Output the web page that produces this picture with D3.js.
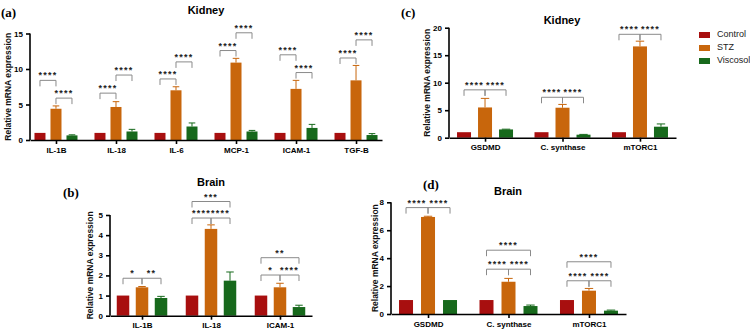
<!DOCTYPE html>
<html>
<head>
<meta charset="utf-8">
<script src="https://cdn.jsdelivr.net/npm/d3@7"></script>
<style>
  body { margin: 0; background: #fff; }
  text { font-family: "Liberation Sans", Arial, sans-serif; }
</style>
</head>
<body>
<svg id="chart"></svg>
<script>
// ---- data ----
const series = ["Control", "STZ", "Viscosol"]
const colors = ["#a80f0f", "#c8660c", "#17691c"]

// (a) kidney cytokines
const catsA = ["IL-1B", "IL-18", "IL-6", "MCP-1", "ICAM-1", "TGF-B"]
const controlA = [1, 1, 1, 1, 1, 1]
const stzA = [4.4, 4.65, 7.0, 10.9, 7.2, 8.4]
const viscA = [0.65, 1.2, 1.9, 1.2, 1.7, 0.7]
const controlErrA = [0, 0, 0, 0, 0, 0]
const stzErrA = [0.4, 0.75, 0.5, 0.6, 1.2, 2.1]
const viscErrA = [0.08, 0.3, 0.5, 0.15, 0.5, 0.2]
// significance: [category, from, to, label, bracket level]
const sigA = [
  ["IL-1B", 0, 1, "****", 8.4], ["IL-1B", 1, 2, "****", 5.9],
  ["IL-18", 0, 1, "****", 6.6], ["IL-18", 1, 2, "****", 9.15],
  ["IL-6", 0, 1, "****", 8.6], ["IL-6", 1, 2, "****", 11.0],
  ["MCP-1", 0, 1, "****", 12.6], ["MCP-1", 1, 2, "****", 15.1],
  ["ICAM-1", 0, 1, "****", 12.0], ["ICAM-1", 1, 2, "****", 9.5],
  ["TGF-B", 0, 1, "****", 11.55], ["TGF-B", 1, 2, "****", 14.1]
]

// (b) brain cytokines
const catsB = ["IL-1B", "IL-18", "ICAM-1"]
const controlB = [1, 1, 1]
const stzB = [1.41, 4.31, 1.41]
const viscB = [0.88, 1.74, 0.43]
const controlErrB = [0, 0, 0]
const stzErrB = [0.04, 0.2, 0.2]
const viscErrB = [0.08, 0.43, 0.09]
const sigB = [
  ["IL-1B", 0, 1, "*", 1.86], ["IL-1B", 1, 2, "**", 1.86],
  ["IL-18", 0, 1, "****", 4.85], ["IL-18", 1, 2, "****", 4.85], ["IL-18", 0, 2, "***", 5.67],
  ["ICAM-1", 0, 1, "*", 2.02], ["ICAM-1", 1, 2, "****", 2.02], ["ICAM-1", 0, 2, "**", 2.88]
]

// (c) kidney pyroptosis markers
const catsC = ["GSDMD", "C. synthase", "mTORC1"]
const controlC = [1, 1, 1]
const stzC = [5.5, 5.45, 16.6]
const viscC = [1.5, 0.55, 2.0]
const controlErrC = [0, 0, 0]
const stzErrC = [1.65, 0.6, 0.95]
const viscErrC = [0.05, 0.05, 0.5]
const sigC = [
  ["GSDMD", 0, 1, "****", 8.7], ["GSDMD", 1, 2, "****", 8.7],
  ["C. synthase", 0, 1, "****", 7.35], ["C. synthase", 1, 2, "****", 7.35],
  ["mTORC1", 0, 1, "****", 18.8], ["mTORC1", 1, 2, "****", 18.8]
]

// (d) brain pyroptosis markers
const catsD = ["GSDMD", "C. synthase", "mTORC1"]
const controlD = [1, 1, 1]
const stzD = [6.95, 2.31, 1.67]
const viscD = [1, 0.57, 0.24]
const controlErrD = [0, 0, 0]
const stzErrD = [0.05, 0.24, 0.16]
const viscErrD = [0, 0.07, 0.04]
const sigD = [
  ["GSDMD", 0, 1, "****", 7.62], ["GSDMD", 1, 2, "****", 7.62],
  ["C. synthase", 0, 1, "****", 3.21], ["C. synthase", 1, 2, "****", 3.21], ["C. synthase", 0, 2, "****", 4.57],
  ["mTORC1", 0, 1, "****", 2.38], ["mTORC1", 1, 2, "****", 2.38], ["mTORC1", 0, 2, "****", 3.74]
]

// ---- layout ----
const width = 750, height = 331
const svg = d3.select("#chart").attr("width", width).attr("height", height)

const panels = [
  {tag: "(a)", title: "Kidney", cats: catsA, vals: [controlA, stzA, viscA], errs: [controlErrA, stzErrA, viscErrA], sig: sigA,
   x: [30, 382], y: [140, 33.5], ymax: 15, ticks: [0, 5, 10, 15], pad: 0.433, off: 16, bw: 11,
   tagPos: [1, 17], titlePos: [206, 14], labelX: 9},
  {tag: "(b)", title: "Brain", cats: catsB, vals: [controlB, stzB, viscB], errs: [controlErrB, stzErrB, viscErrB], sig: sigB,
   x: [110, 312], y: [315.7, 215], ymax: 5, ticks: [0, 1, 2, 3, 4, 5], pad: 0.464, off: 19, bw: 12.5,
   tagPos: [63, 197], titlePos: [211, 186], labelX: 91},
  {tag: "(c)", title: "Kidney", cats: catsC, vals: [controlC, stzC, viscC], errs: [controlErrC, stzErrC, viscErrC], sig: sigC,
   x: [449, 676], y: [137.7, 27.7], ymax: 20, ticks: [0, 5, 10, 15, 20], pad: 0.465, off: 21, bw: 14,
   tagPos: [401, 17], titlePos: [562, 24], labelX: 428},
  {tag: "(d)", title: "Brain", cats: catsD, vals: [controlD, stzD, viscD], errs: [controlErrD, stzErrD, viscErrD], sig: sigD,
   x: [391, 626], y: [314, 202.3], ymax: 8, ticks: [0, 2, 4, 6, 8], pad: 0.46, off: 22, bw: 14,
   tagPos: [423, 189], titlePos: [508, 195], labelX: 376}
]

panels.forEach(p => drawPanel(p))

function drawPanel(p) {
  const g = svg.append("g")
  const scaleX = d3.scalePoint().domain(p.cats).range(p.x).padding(p.pad)
  const scaleS = d3.scalePoint().domain(series).range([-p.off, p.off])
  const scaleY = d3.scaleLinear().domain([0, p.ymax]).range(p.y)

  // panel tag and title
  g.append("text").text(p.tag).attr("x", p.tagPos[0]).attr("y", p.tagPos[1])
    .style("font-family", "'Liberation Serif', 'Times New Roman', serif")
    .attr("font-weight", "bold").attr("font-size", 13)
  g.append("text").text(p.title).attr("x", p.titlePos[0]).attr("y", p.titlePos[1])
    .attr("text-anchor", "middle").attr("font-weight", "bold").attr("font-size", 11)

  // y label
  const midY = (p.y[0] + p.y[1]) / 2
  g.append("text").text("Relative mRNA expression")
    .attr("transform", `translate(${p.labelX}, ${midY}) rotate(-90)`)
    .attr("text-anchor", "middle").attr("dominant-baseline", "middle")
    .attr("font-weight", "bold").attr("font-size", 8.5).attr("fill", "#111")

  // bars
  const rows = []
  p.cats.forEach((c, i) => {
    series.forEach((s, j) => rows.push({cat: c, s: s, j: j, v: p.vals[j][i], e: p.errs[j][i]}))
  })
  g.append("g").selectAll("rect").data(rows).join("rect")
    .attr("x", d => scaleX(d.cat) + scaleS(d.s) - p.bw / 2)
    .attr("width", p.bw)
    .attr("y", d => scaleY(d.v))
    .attr("height", d => scaleY(0) - scaleY(d.v))
    .attr("fill", d => colors[d.j])

  // error bars (upper only)
  const eb = g.append("g").selectAll("g").data(rows.filter(d => d.e > 0)).join("g")
    .attr("stroke", d => colors[d.j]).attr("stroke-width", 1)
  eb.append("line")
    .attr("x1", d => scaleX(d.cat) + scaleS(d.s)).attr("x2", d => scaleX(d.cat) + scaleS(d.s))
    .attr("y1", d => scaleY(d.v)).attr("y2", d => scaleY(d.v + d.e))
  eb.append("line")
    .attr("x1", d => scaleX(d.cat) + scaleS(d.s) - p.bw * 0.3).attr("x2", d => scaleX(d.cat) + scaleS(d.s) + p.bw * 0.3)
    .attr("y1", d => scaleY(d.v + d.e)).attr("y2", d => scaleY(d.v + d.e))

  // axes
  const yAxis = d3.axisLeft(scaleY).tickValues(p.ticks).tickFormat(d3.format("d")).tickSize(4).tickSizeOuter(0)
  const ya = g.append("g").attr("transform", `translate(${p.x[0]},0)`).call(yAxis)
  const xAxis = d3.axisBottom(scaleX).tickSize(4).tickSizeOuter(0).tickPadding(3)
  const xa = g.append("g").attr("transform", `translate(0,${p.y[0]})`).call(xAxis)
  ;[ya, xa].forEach(a => {
    a.selectAll("path, line").attr("stroke", "#000").attr("stroke-width", 1.6)
    a.selectAll("text").attr("font-weight", "bold").attr("font-size", 8)
      .style("font-family", "'Liberation Sans', Arial, sans-serif").attr("fill", "#000")
  })
  ya.select("path").attr("d", `M0,${p.y[0]}V${p.y[1]}`)

  // significance brackets
  const br = g.append("g").selectAll("g").data(p.sig).join("g")
  br.append("path")
    .attr("d", d => {
      const x1 = scaleX(d[0]) + scaleS(series[d[1]])
      const x2 = scaleX(d[0]) + scaleS(series[d[2]])
      const y = scaleY(d[4])
      return `M${x1},${y + 6}V${y}H${x2}V${y + 6}`
    })
    .attr("fill", "none").attr("stroke", "#8a8a8a").attr("stroke-width", 1)
  br.append("text")
    .text(d => d[3])
    .attr("x", d => scaleX(d[0]) + (scaleS(series[d[1]]) + scaleS(series[d[2]])) / 2)
    .attr("y", d => scaleY(d[4]) - 2)
    .attr("text-anchor", "middle").attr("font-size", 9).attr("font-weight", "bold")
    .attr("letter-spacing", 1.2).attr("fill", "#222")
}

// legend
const legend = svg.append("g").attr("transform", "translate(699,35)")
legend.selectAll("g").data(series).join("g")
  .attr("transform", (d, i) => `translate(0, ${i * 13})`)
  .each(function(d, i) {
    const row = d3.select(this)
    row.append("rect").attr("x", 0).attr("y", -3).attr("width", 11).attr("height", 6).attr("fill", colors[i])
    row.append("text").text(d).attr("x", 18).attr("y", 0).attr("dominant-baseline", "middle")
      .attr("font-size", 9).attr("fill", "#222")
  })
</script>
</body>
</html>
